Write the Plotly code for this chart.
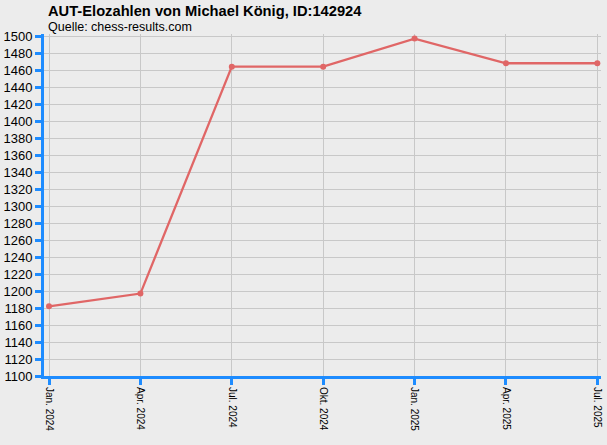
import plotly.graph_objects as go

quarters = ['Jan. 2024', 'Apr. 2024', 'Jul. 2024', 'Okt. 2024', 'Jan. 2025', 'Apr. 2025', 'Jul. 2025']
elo = [1182, 1197, 1464, 1464, 1497, 1468, 1468]
ytick_vals = list(range(1100, 1501, 20))

bg = '#ececec'
axis_blue = '#1e8cff'

L, R, T, B = 44, 6, 34, 69
plot_w = 607 - L - R
plot_h = 445 - T - B

fig = go.Figure()
fig.add_trace(go.Scatter(x=quarters, y=elo, mode='lines+markers',
                         line=dict(color='#e06666', width=2.3),
                         marker=dict(color='#e06666', size=6)))

fig.update_layout(
    width=607, height=445,
    paper_bgcolor=bg, plot_bgcolor=bg,
    margin=dict(l=L, r=R, t=T, b=B, autoexpand=False),
    showlegend=False,
    font=dict(family='Liberation Sans, Arial', color='black'),
    annotations=[
        dict(text='<b>AUT-Elozahlen von Michael König, ID:142924</b>',
             x=(46 - L) / plot_w, y=(445 - 11 - B) / plot_h,
             xref='paper', yref='paper', showarrow=False, xanchor='left', yanchor='middle',
             font=dict(size=14.7)),
        dict(text='Quelle: chess-results.com',
             x=(46 - L) / plot_w, y=(445 - 27 - B) / plot_h,
             xref='paper', yref='paper', showarrow=False, xanchor='left', yanchor='middle',
             font=dict(size=12.5)),
    ],
)

fig.update_xaxes(type='category', range=[-0.055, 6.04], automargin=False,
                 tickangle=90, tickfont=dict(size=10),
                 showgrid=True, gridcolor='#c8c8c8', gridwidth=1,
                 showline=True, linecolor=axis_blue, linewidth=3,
                 ticks='outside', tickcolor=axis_blue, ticklen=6, tickwidth=3,
                 zeroline=False)
fig.update_yaxes(range=[1100, 1502.4], tickvals=ytick_vals, automargin=False,
                 tickfont=dict(size=13),
                 showgrid=True, gridcolor='#c8c8c8', gridwidth=1,
                 showline=True, linecolor=axis_blue, linewidth=3,
                 ticks='outside', tickcolor=axis_blue, ticklen=6, tickwidth=3,
                 zeroline=False)

# page body has a default 8px margin; drop it so the figure fills the window
fig.write_html('out.html', config={'displayModeBar': False},
               post_script="document.body.style.margin='0';")
